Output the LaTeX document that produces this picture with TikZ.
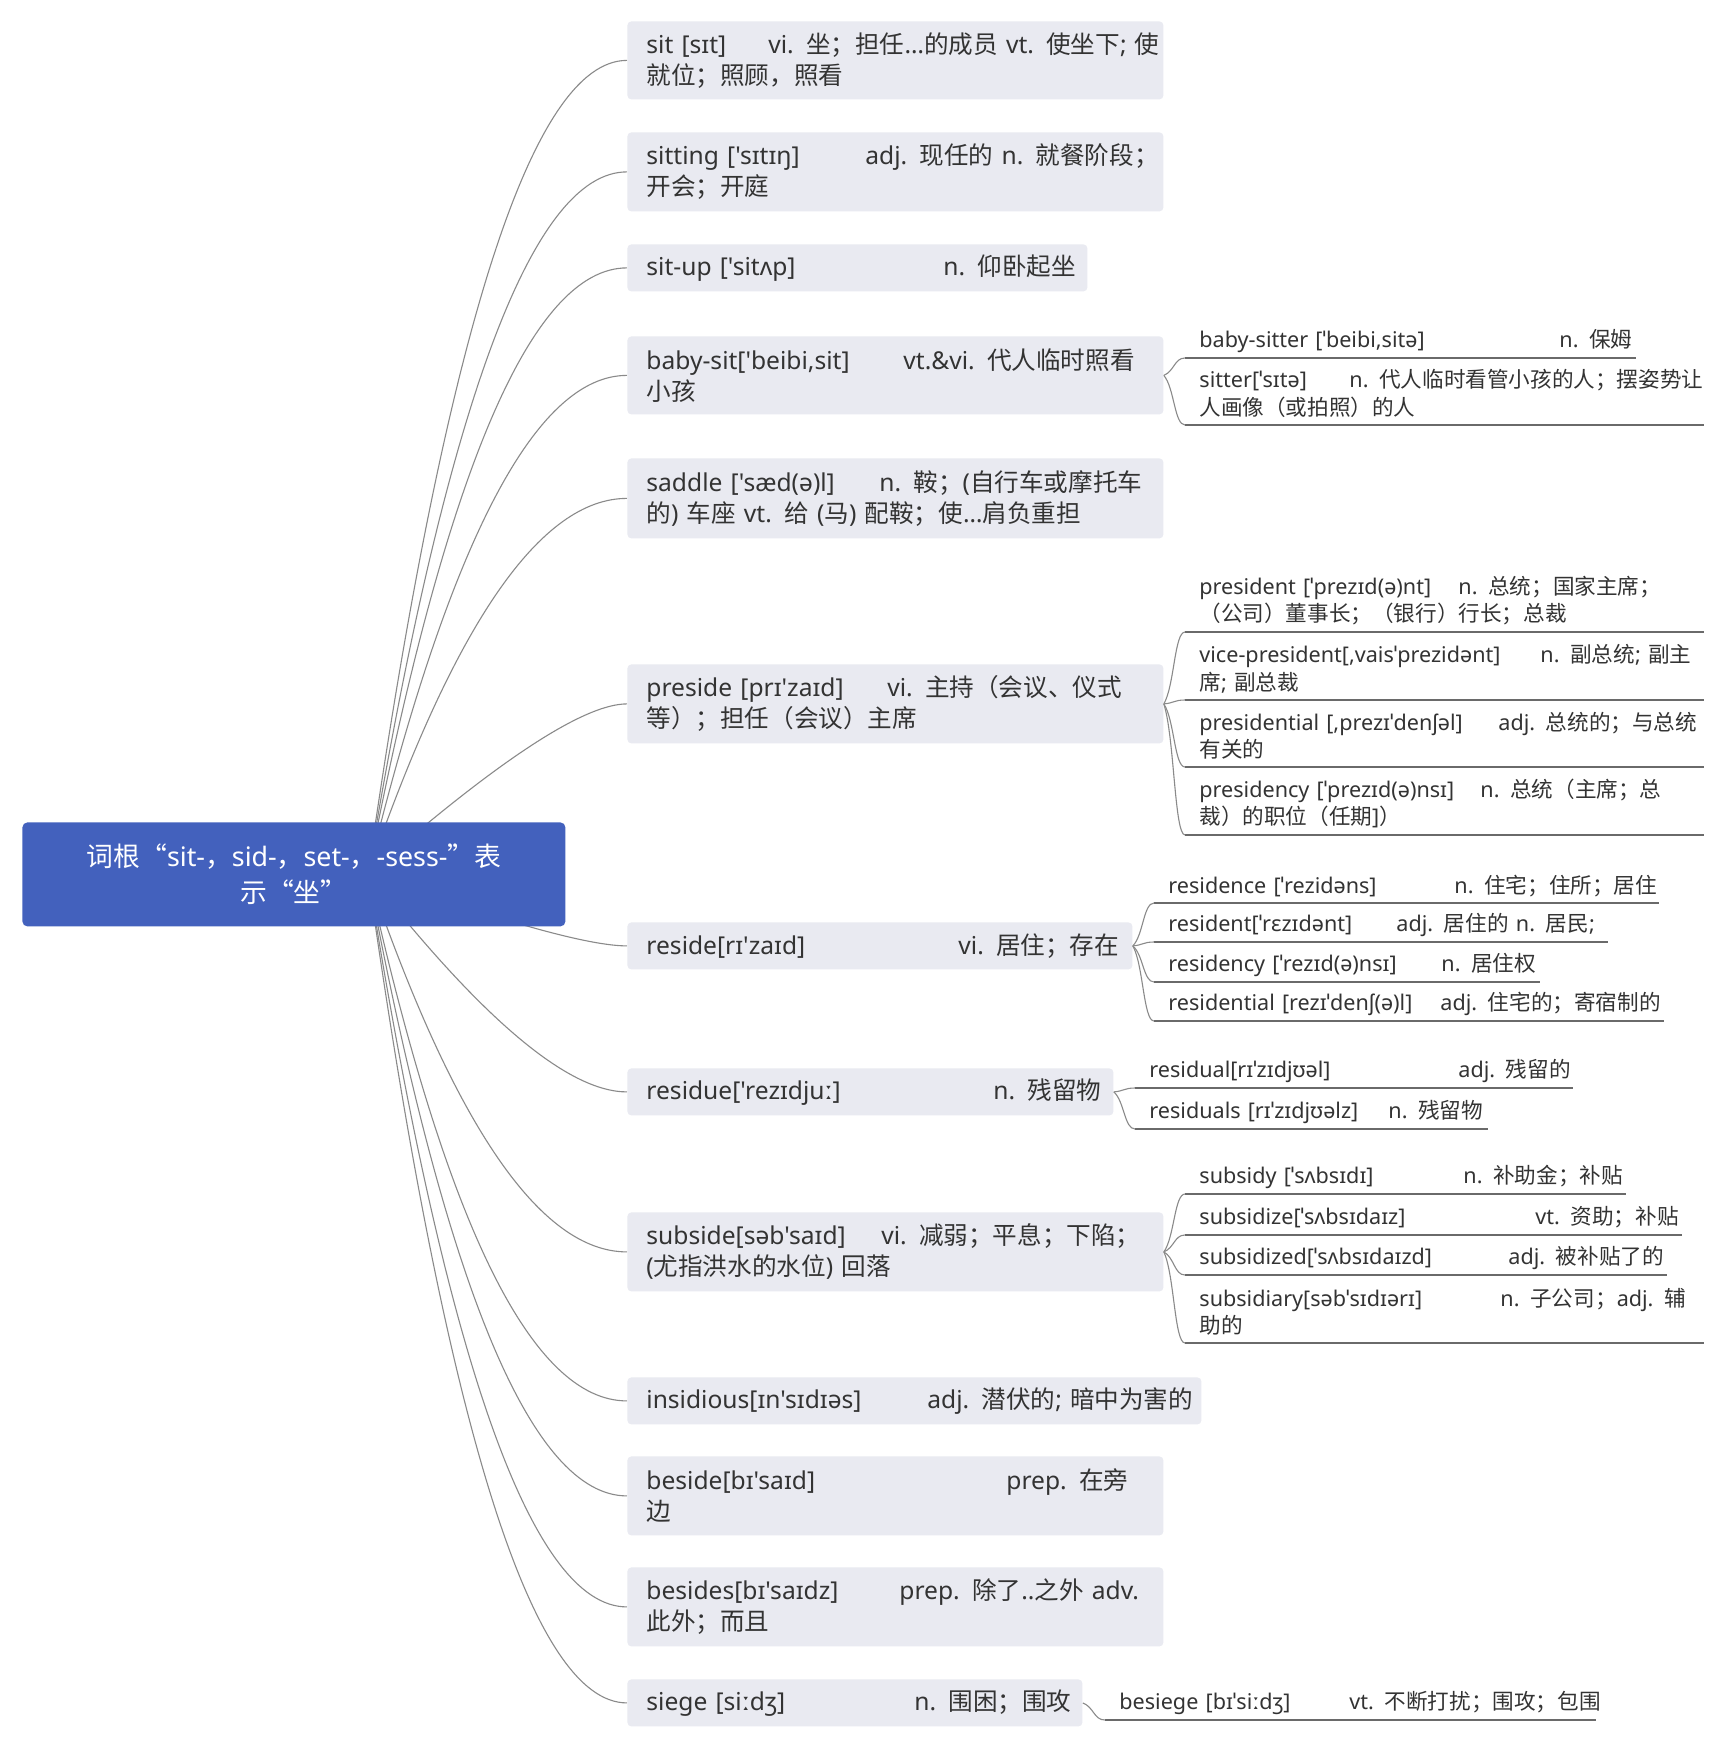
\documentclass[tikz,border=0pt]{standalone}
\usepackage{fontspec}
\setmainfont{Noto Sans}[Ligatures=TeXOff]
\newfontfamily\cjkf{Noto Sans CJK SC}
\newfontfamily\latf{Noto Sans}[Ligatures=TeXOff]
\usetikzlibrary{calc}
\XeTeXinterchartokenstate=1
\newXeTeXintercharclass\cjkcls
\newcount\cjkc
\def\setcls#1#2{\cjkc=#1\relax\loop\XeTeXcharclass\cjkc=\cjkcls\advance\cjkc by 1\relax\ifnum\cjkc<#2\repeat}
\setcls{"4E00}{"A000}
\setcls{"3000}{"3040}
\setcls{"FF00}{"FFF0}
\XeTeXcharclass"201C=\cjkcls
\XeTeXcharclass"201D=\cjkcls
\XeTeXinterchartoks 0 \cjkcls={\cjkf}
\XeTeXinterchartoks 4095 \cjkcls={\cjkf}
\XeTeXinterchartoks \cjkcls 0={\latf}
\XeTeXinterchartoks \cjkcls 4095={\latf}
\pgfdeclarelayer{bg}
\pgfsetlayers{bg,main}
\definecolor{boxfill}{HTML}{E9EAF1}
\definecolor{rootfill}{HTML}{4361BD}
\definecolor{txt}{HTML}{333333}
\definecolor{lnc}{HTML}{8A8A8A}
\definecolor{ulc}{HTML}{6A6A6A}
\newcommand\wl[3]{\mbox{\makebox[#1][l]{#2}#3}}
\newcommand\mynode[6]{\node[mb,minimum width=#4pt,minimum height=#3pt,text width=#5pt] (#1) at (627,#2) {#6};}
\newcommand\mysub[7]{\node[sb,minimum width=#4pt,minimum height=#5pt,text width=#6pt] (#1) at (#2,#3) {#7};
  \draw[uline] (#1.south west) -- (#1.south east);}
\begin{document}
\begin{tikzpicture}[x=0.5pt,y=-0.5pt,
  mb/.style={fill=boxfill,rounded corners=2pt,anchor=north west,inner xsep=9.5pt,inner ysep=0pt,align=left,text=txt,font=\fontsize{12.3pt}{15.5pt}\selectfont},
  sb/.style={anchor=south west,inner xsep=7pt,inner ysep=0pt,align=left,text=txt,font=\fontsize{10.8pt}{13.8pt}\selectfont},
  rootbox/.style={fill=rootfill,rounded corners=2.5pt,anchor=north west,inner sep=0pt,align=center,text=white,font=\fontsize{13.4pt}{17.8pt}\selectfont},
  uline/.style={draw=ulc,line width=0.6pt},
  conn/.style={draw=lnc,line width=0.55pt},
  mcurve/.style={to path={let \p1=(\tikztostart),\p2=(\tikztotarget) in .. controls ({\x1+0.6667*#1*(\x2-\x1)},{\y1+0.6667*(\y2-\y1)}) and ({\x2-0.6667*(1-#1)*(\x2-\x1)},\y2) .. (\tikztotarget)}},
  scurve/.style={to path={let \p1=(\tikztostart),\p2=(\tikztotarget) in .. controls ({\x1+0.5*(\x2-\x1)},{\y1+0.25*(\y2-\y1)}) and ({\x1+0.5*(\x2-\x1)},\y2) .. (\tikztotarget)}}
]
\begin{pgfonlayer}{bg}
\fill[white] (0,0) rectangle (1724,1749);
\end{pgfonlayer}
\useasboundingbox (0,0) rectangle (1724,1749);

% root
\node[rootbox,minimum width=271.5pt,minimum height=52pt] (root) at (22,822) {词根“sit-，sid-，set-，-sess-”表\\示“坐”};
\coordinate (S) at (368,874);

% main boxes
\mynode{sit}{21}{39}{268}{249}{\wl{61pt}{sit [sɪt]}{vi. 坐；担任…的成员 vt. 使坐下; 使}\\\mbox{就位；照顾，照看}}
\mynode{sitting}{132}{39.5}{268}{249}{\wl{109.5pt}{sitting ['sɪtɪŋ]}{adj. 现任的 n. 就餐阶段；}\\\mbox{开会；开庭}}
\mynode{situp}{244}{23.5}{230}{211}{\wl{148.5pt}{sit-up ['sitʌp]}{n. 仰卧起坐}}
\mynode{babysit}{336}{39}{268}{249}{\wl{128.5pt}{baby-sit['beibi,sit]}{vt.\&vi. 代人临时照看}\\\mbox{小孩}}
\mynode{saddle}{458}{40}{268}{249}{\wl{116.5pt}{saddle ['sæd(ə)l]}{n. 鞍；(自行车或摩托车}\\\mbox{的) 车座 vt. 给 (马) 配鞍；使…肩负重担}}
\mynode{preside}{664}{39.5}{268}{249}{\wl{120.5pt}{preside [prɪ'zaɪd]}{vi. 主持（会议、仪式}\\\mbox{等）；担任（会议）主席}}
\mynode{reside}{922}{23.5}{252.5}{233.5}{\wl{156pt}{reside[rɪ'zaɪd]}{vi. 居住；存在}}
\mynode{residue}{1068}{23.5}{243}{224}{\wl{173.5pt}{residue['rezɪdjuː]}{n. 残留物}}
\mynode{subside}{1212}{39.5}{268}{249}{\wl{117.5pt}{subside[səb'saɪd]}{vi. 减弱；平息；下陷；}\\\mbox{(尤指洪水的水位) 回落}}
\mynode{insidious}{1377}{23.5}{287}{268}{\wl{140.5pt}{insidious[ɪn'sɪdɪəs]}{adj. 潜伏的; 暗中为害的}}
\mynode{beside}{1456}{39.5}{268}{249}{\wl{180pt}{beside[bɪ'saɪd]}{prep. 在旁}\\\mbox{边}}
\mynode{besides}{1567}{39.5}{268}{249}{\wl{126.5pt}{besides[bɪ'saɪdz]}{prep. 除了..之外 adv.}\\\mbox{此外；而且}}
\mynode{siege}{1679}{23.5}{227.5}{208.5}{\wl{134pt}{siege [siːdʒ]}{n. 围困；围攻}}

% sub items
\mysub{bs1}{1185}{358}{225}{17}{211}{\wl{180pt}{baby-sitter [ˈbeibi,sitə]}{n. 保姆}}
\mysub{bs2}{1185}{425}{259}{31}{245}{\wl{75pt}{sitter[ˈsɪtə]}{n. 代人临时看管小孩的人；摆姿势让}\\\mbox{人画像（或拍照）的人}}
\mysub{p1}{1185}{632}{259}{31}{245}{\wl{129.5pt}{president [ˈprezɪd(ə)nt]}{n. 总统；国家主席；}\\\mbox{（公司）董事长；（银行）行长；总裁}}
\mysub{p2}{1185}{700}{259}{31}{245}{\wl{170.5pt}{vice-president[,vaisˈprezidənt]}{n. 副总统; 副主}\\\mbox{席; 副总裁}}
\mysub{p3}{1185}{767}{259}{31}{245}{\wl{149.5pt}{presidential [,prezɪˈdenʃəl]}{adj. 总统的；与总统}\\\mbox{有关的}}
\mysub{p4}{1185}{835}{259}{31}{245}{\wl{140.5pt}{presidency [ˈprezɪd(ə)nsɪ]}{n. 总统（主席；总}\\\mbox{裁）的职位（任期]）}}
\mysub{r1}{1154}{903}{252}{17}{238}{\wl{143pt}{residence [ˈrezidəns]}{n. 住宅；住所；居住}}
\mysub{r2}{1154}{942}{226.5}{17}{212.5}{\wl{114pt}{resident[ˈrɛzɪdənt]}{adj. 居住的 n. 居民;}}
\mysub{r3}{1154}{982}{192.5}{17}{178.5}{\wl{136.5pt}{residency [ˈrezɪd(ə)nsɪ]}{n. 居住权}}
\mysub{r4}{1154}{1021}{254.5}{17}{240.5}{\wl{136pt}{residential [rezɪˈdenʃ(ə)l]}{adj. 住宅的；寄宿制的}}
\mysub{rd1}{1135}{1088}{218.5}{17}{204.5}{\wl{154.5pt}{residual[rɪˈzɪdjʊəl]}{adj. 残留的}}
\mysub{rd2}{1135}{1129}{176}{17}{162}{\wl{119.5pt}{residuals [rɪˈzɪdjʊəlz]}{n. 残留物}}
\mysub{s1}{1185}{1194}{220}{17}{206}{\wl{132pt}{subsidy [ˈsʌbsɪdɪ]}{n. 补助金；补贴}}
\mysub{s2}{1185}{1235}{248}{17}{234}{\wl{168pt}{subsidize[ˈsʌbsɪdaɪz]}{vt. 资助；补贴}}
\mysub{s3}{1185}{1275}{240.5}{17}{226.5}{\wl{154.5pt}{subsidized[ˈsʌbsɪdaɪzd]}{adj. 被补贴了的}}
\mysub{s4}{1185}{1343}{259}{31}{245}{\wl{150.5pt}{subsidiary[səbˈsɪdɪərɪ]}{n. 子公司；adj. 辅}\\\mbox{助的}}
\mysub{sg1}{1105}{1720}{245}{17}{231}{\wl{115pt}{besiege [bɪˈsiːdʒ]}{vt. 不断打扰；围攻；包围}}

\begin{pgfonlayer}{bg}
\foreach \nm/\fr in {sit/0.45,sitting/0.45,situp/0.45,babysit/0.47,saddle/0.5,preside/0.75,reside/0.78,residue/0.66,subside/0.5,insidious/0.45,beside/0.45,besides/0.45,siege/0.45}
  \draw[conn] (S) to[mcurve=\fr] (\nm.west);
\end{pgfonlayer}
\foreach \pa/\ch in {babysit/bs1,babysit/bs2,preside/p1,preside/p2,preside/p3,preside/p4,reside/r1,reside/r2,reside/r3,reside/r4,residue/rd1,residue/rd2,subside/s1,subside/s2,subside/s3,subside/s4,siege/sg1}
  \draw[conn] (\pa.east) to[scurve] (\ch.south west);
\end{tikzpicture}
\end{document}
